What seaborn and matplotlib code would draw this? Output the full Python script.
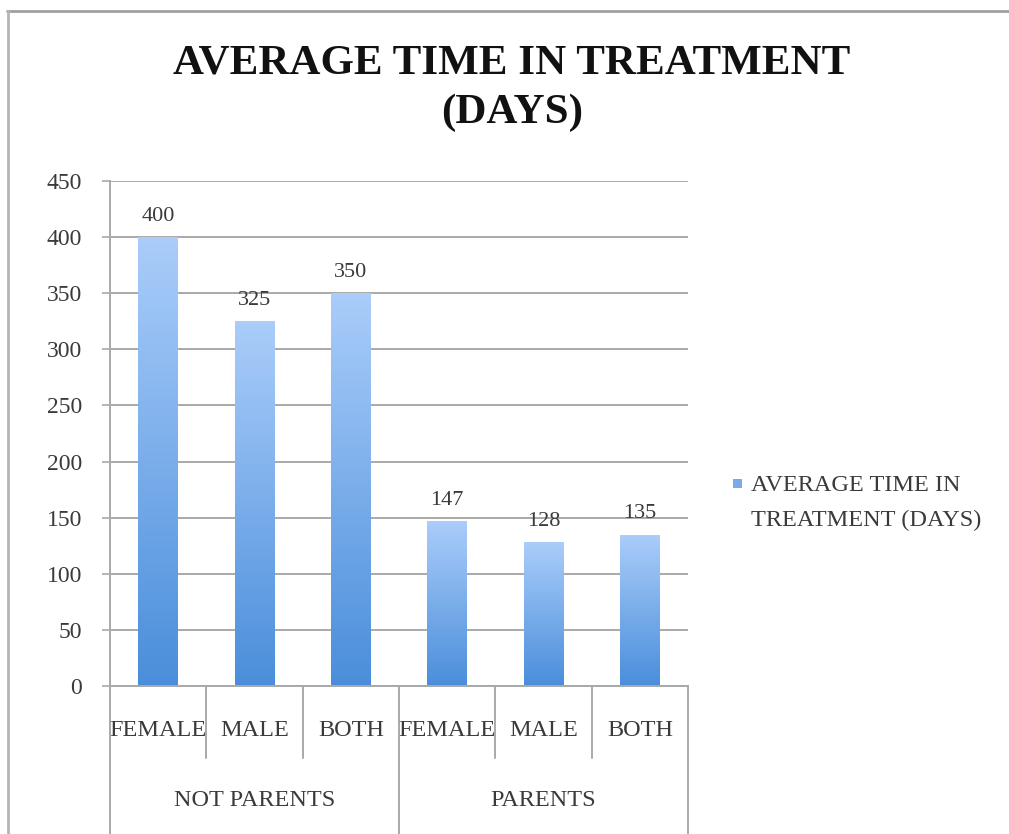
import numpy as np
import pandas as pd
import matplotlib
matplotlib.use("Agg")
import matplotlib.pyplot as plt
import matplotlib.transforms as mtransforms
from matplotlib.lines import Line2D
from matplotlib.patches import Rectangle
from matplotlib.colors import LinearSegmentedColormap
import seaborn as sns

# Data
groups = ["NOT PARENTS", "NOT PARENTS", "NOT PARENTS", "PARENTS", "PARENTS", "PARENTS"]
sexes = ["FEMALE", "MALE", "BOTH", "FEMALE", "MALE", "BOTH"]
days = [400, 325, 350, 147, 128, 135]
series_name = "AVERAGE TIME IN\nTREATMENT (DAYS)"
title = "AVERAGE TIME IN TREATMENT\n(DAYS)"
y_ticks = [0, 50, 100, 150, 200, 250, 300, 350, 400, 450]

df = pd.DataFrame({"group": groups, "sex": sexes, "days": days})
df["key"] = [f"{g}|{s}" for g, s in zip(groups, sexes)]

sns.set_theme(style="white")
plt.rcParams["font.family"] = ["Liberation Serif", "DejaVu Serif"]

TEXT = "#3a3a3a"
GRID = "#a9a9a9"
W, H = 1009, 834

fig = plt.figure(figsize=(W / 100, H / 100), dpi=100)
ax = fig.add_axes([110 / W, 1 - 686 / H, (688 - 110) / W, (686 - 181) / H])

sns.barplot(data=df, x="key", y="days", ax=ax, width=0.41, color="#6fa3e6",
            errorbar=None, saturation=1)

# Per-bar vertical gradient: light at the top, deeper blue at the base
cmap = LinearSegmentedColormap.from_list("bar", ["#4a8edb", "#aacdfa"])
grad = np.linspace(0, 1, 256).reshape(-1, 1)
for p in ax.patches:
    x0, y0 = p.get_x(), p.get_y()
    w, h = p.get_width(), p.get_height()
    im = ax.imshow(grad, cmap=cmap, origin="lower", aspect="auto",
                   extent=[x0, x0 + w, y0, y0 + h], zorder=2)
    im.set_clip_path(p)
    p.set_facecolor("none")
    p.set_edgecolor("none")

ax.set_xlim(-0.5, len(days) - 0.5)
ax.set_ylim(0, 450)
ax.set_yticks(y_ticks)
ax.set_yticklabels([str(t) for t in y_ticks], fontsize=17, color=TEXT)
ax.yaxis.grid(True, color=GRID, linewidth=1.4)
ax.set_axisbelow(True)
ax.tick_params(axis="y", length=6, width=1.2, color=GRID, pad=14, left=True)
ax.set_xticks([])
ax.set_xlabel("")
ax.set_ylabel("")
for side in ["top", "right"]:
    ax.spines[side].set_visible(False)
for side in ["left", "bottom"]:
    ax.spines[side].set_color(GRID)
    ax.spines[side].set_linewidth(1.4)

# Value labels
for i, v in enumerate(days):
    ax.text(i, v + 10, str(v), ha="center", va="bottom", fontsize=16, color=TEXT)

# Two-level category axis
trans = mtransforms.blended_transform_factory(ax.transData, ax.transAxes)
axh = (686 - 181)
inner_bottom = -(758 - 686) / axh
outer_bottom = -(834 - 686) / axh
for b in range(len(days) + 1):
    xb = b - 0.5
    is_group_edge = b == 0 or b == len(days) or groups[b - 1] != groups[b]
    yb = outer_bottom if is_group_edge else inner_bottom
    ax.add_line(Line2D([xb, xb], [0, yb], transform=trans, color=GRID,
                       linewidth=1.4, clip_on=False))
for i, s in enumerate(sexes):
    ax.text(i, -(730 - 686) / axh, s, transform=trans, ha="center", va="center",
            fontsize=17.5, color=TEXT, clip_on=False)
seen = []
for g in groups:
    if g not in seen:
        seen.append(g)
for g in seen:
    idx = [i for i, gg in enumerate(groups) if gg == g]
    ax.text(np.mean(idx), -(801 - 686) / axh, g, transform=trans, ha="center",
            va="center", fontsize=17.5, color=TEXT, clip_on=False)

# Title
fig.text(512 / W, 1 - 44 / H, title, ha="center", va="top", fontsize=31,
         fontweight="bold", color="#111111", linespacing=1.38)

# Legend key and label
fig.add_artist(Rectangle((733 / W, 1 - 488 / H), 9 / W, 9 / H,
                         transform=fig.transFigure, facecolor="#7aaae8",
                         edgecolor="none"))
fig.text(751 / W, 1 - 475 / H, series_name, ha="left", va="top", fontsize=17.5,
         color=TEXT, linespacing=1.85)

# Outer frame edges
fig.add_artist(Line2D([7 / W, 1.0], [1 - 11 / H, 1 - 11 / H],
                      transform=fig.transFigure, color="#a0a0a0", linewidth=2))
fig.add_artist(Line2D([8 / W, 8 / W], [0, 1 - 11 / H],
                      transform=fig.transFigure, color="#b5b5b5", linewidth=2))

fig.savefig("out.png", dpi=100)
